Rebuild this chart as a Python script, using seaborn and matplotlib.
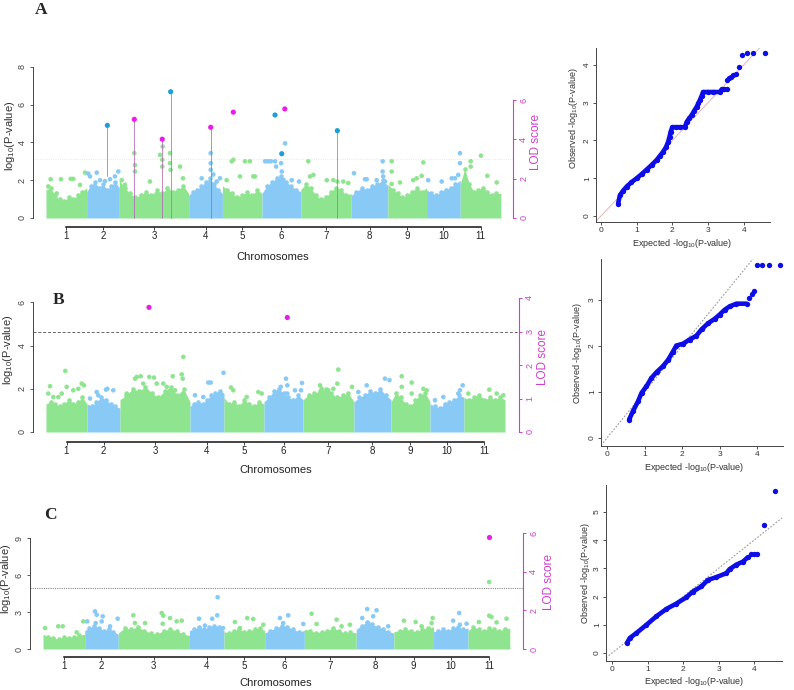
import numpy as np
import pandas as pd
import matplotlib
matplotlib.use('Agg')
import matplotlib.pyplot as plt
import seaborn as sns

# chromosomes (same genome for the three traits)
chrom_names = ['1', '2', '3', '4', '5', '6', '7', '8', '9', '10', '11']
chrom_len = [41, 33, 70, 34, 40, 39, 51, 37, 39, 34, 41]

# ---- panel A: top of the dense SNP band per chromosome (-log10 p)
A_band = [
    [1.5, 1.6, 1.2, 1.0, 0.9, 1.1, 1.0, 1.2, 1.4, 1.6],
    [1.4, 1.7, 1.9, 1.6, 1.8, 1.5, 1.7, 1.9, 1.6],
    [2.0, 1.6, 1.3, 1.1, 1.2, 1.4, 1.2, 1.5, 1.3, 1.6, 1.4, 1.5, 1.7, 1.3],
    [1.2, 1.4, 1.5, 1.7, 1.9, 2.1, 1.8, 1.5, 1.3],
    [1.7, 1.5, 1.3, 1.1, 1.2, 1.4, 1.2, 1.5, 1.3],
    [1.3, 1.7, 1.9, 2.1, 2.2, 1.9, 1.7, 1.5, 1.4],
    [1.5, 1.8, 1.6, 1.2, 1.0, 1.1, 1.4, 1.6, 1.5, 1.2, 1.3],
    [1.2, 1.4, 1.6, 1.5, 1.7, 1.8, 2.0, 1.7],
    [1.8, 1.5, 1.3, 1.1, 1.2, 1.4, 1.6, 1.4, 1.6],
    [1.5, 1.3, 1.2, 1.4, 1.5, 1.6, 1.8, 2.0],
    [1.8, 2.6, 1.8, 1.4, 1.5, 1.6, 1.4, 1.2, 1.3, 1.3],
]
A_snp_pos = [2.3, 4.7, 10.8, 15.1, 24.9, 27.5, 34.3, 39.4,
             42.7, 44.4, 51.2, 54.5, 59.5, 64.6, 69.6, 73.0,
             76.4, 79.7, 89.1, 89.8, 89.8, 104.9, 115.0, 117.7, 117.3, 117.3, 125.1, 125.1, 125.8, 135.2, 138.2,
             157.1, 166.2, 166.2, 166.2, 168.8, 172.2, 175.6,
             182.3, 187.4, 189.0, 195.7, 200.8, 205.8, 209.2, 210.9,
             221.1, 224.1, 226.9, 231.1, 232.2, 237.2, 237.9, 239.6, 241.3, 247.9, 255.3,
             264.7, 266.4, 269.8, 283.3, 289.9, 294.0, 300.0, 305.0,
             310.8, 321.9, 323.6, 333.7, 339.7, 339.7, 340.3, 342.1,
             348.8, 348.8, 348.8, 357.2, 370.6, 374.0, 379.1, 380.7,
             385.7, 399.3, 409.4, 412.7, 416.0, 417.7, 417.7,
             428.5, 428.5, 438.9, 445.3, 454.8]
A_snp_p = [1.67, 2.05, 1.3, 2.05, 2.07, 2.07, 1.75, 2.4,
           2.35, 2.2, 2.4, 2.0, 1.95, 2.05, 2.2, 2.46,
           2.0, 1.76, 3.43, 2.46, 2.8, 1.93, 3.34, 3.78, 3.08, 2.72, 3.43, 2.9, 2.55, 2.72, 2.1,
           2.1, 3.43, 2.9, 2.55, 2.3, 1.93, 2.1,
           2.0, 3.0, 3.08, 2.2, 3.0, 3.0, 2.2, 2.2,
           3.0, 3.0, 3.0, 3.0, 2.72, 2.9, 2.46, 2.02, 3.95, 2.0, 1.93,
           3.0, 2.2, 2.28, 2.0, 2.0, 1.93, 1.93, 1.85,
           2.37, 2.05, 2.05, 2.0, 3.0, 2.46, 2.2, 1.93,
           3.0, 2.46, 1.8, 1.88, 2.0, 2.1, 2.23, 2.94,
           2.0, 1.93, 2.1, 2.1, 2.28, 3.43, 2.9,
           3.0, 2.72, 3.3, 2.23, 1.88]
A_peak_pos = [61.9, 89.1, 117.3, 125.8, 166.2, 189.0, 231.1, 237.9, 241.0, 294.0]
A_peak_p = [4.9, 5.22, 4.17, 6.68, 4.8, 5.6, 5.45, 3.4, 5.77, 4.62]
A_peak_kind = ['gwas', 'lod', 'lod', 'gwas', 'lod', 'lod', 'gwas', 'gwas', 'lod', 'gwas']
A_stem_pos = [61.9, 89.1, 117.3, 125.8, 166.2, 294.0]
A_stem_lo = [2.2, 0, 0, 0, 0, 0]
A_stem_hi = [4.9, 5.22, 4.17, 6.68, 4.8, 4.62]
A_stem_kind = ['gwas', 'lod', 'lod', 'gwas', 'lod', 'gwas']
A_threshold = 3.12

# ---- panel B
B_band = [
    [1.3, 1.4, 1.3, 1.2, 1.3, 1.5, 1.3, 1.4, 1.6, 1.3],
    [1.3, 1.2, 1.4, 1.6, 1.5, 1.3, 1.2, 1.1],
    [1.5, 1.7, 2.0, 1.9, 2.1, 1.8, 1.6, 1.9, 2.1, 1.7, 2.0, 1.4],
    [1.2, 1.3, 1.4, 1.3, 1.5, 1.7, 1.8, 1.9, 1.8],
    [1.6, 1.3, 1.4, 1.2, 1.5, 1.3, 1.2, 1.4, 1.3],
    [1.4, 1.6, 1.9, 2.0, 1.8, 1.6, 1.5, 1.7, 1.5],
    [1.5, 1.7, 1.8, 1.9, 2.0, 1.8, 1.6, 1.7, 1.8, 1.4],
    [1.4, 1.6, 1.7, 1.9, 1.8, 2.0, 1.7, 1.5],
    [1.4, 1.8, 1.6, 1.3, 1.2, 1.5, 1.7, 1.8, 1.4],
    [1.3, 1.2, 1.1, 1.3, 1.4, 1.5, 1.7, 1.6],
    [1.6, 1.5, 1.6, 1.7, 1.5, 1.6, 1.5, 1.6, 1.5],
]
B_snp_pos = [2.3, 4.0, 7.3, 12.3, 15.7, 19.3, 20.7, 27.3, 32.3, 35.7, 38.0,
             44.0, 50.7, 52.3, 60.0, 61.3, 67.3,
             80.7, 89.0, 90.7, 94.7, 97.3, 103.3, 108.0, 110.7, 117.3, 120.7, 126.7, 129.0, 135.7, 136.7, 137.3,
             149.0, 157.3, 162.3, 164.7, 174.0, 177.5,
             185.0, 187.3, 200.7, 212.3, 215.7,
             228.0, 234.7, 240.0, 241.3, 241.3, 249.0, 255.0, 256.0,
             264.0, 274.0, 275.7, 282.3, 287.3, 291.3, 292.3, 300.7, 306.0,
             312.3, 320.7, 339.0, 343.5,
             355.7, 355.7, 365.7, 365.7, 377.3, 380.7,
             389.0, 397.3, 412.3, 414.0, 416.7,
             422.3, 430.7, 443.3, 450.7, 457.3]
B_snp_p = [1.78, 2.12, 1.62, 1.62, 1.78, 2.83, 2.09, 1.93, 2.0, 2.24, 2.16,
           1.55, 1.85, 1.7, 1.96, 2.0, 1.93,
           1.78, 2.47, 2.55, 2.58, 2.24, 2.55, 2.52, 2.24, 2.24, 2.09, 2.58, 1.93, 2.67, 2.47, 3.48,
           1.7, 1.62, 2.29, 2.29, 1.78, 2.74,
           2.06, 1.93, 1.62, 1.85, 1.78,
           1.55, 2.09, 2.47, 2.16, 1.78, 1.93, 1.93, 2.27,
           1.62, 2.16, 2.0, 1.93, 2.0, 2.24, 2.89, 1.62, 2.09,
           1.85, 2.16, 2.47, 2.4,
           2.58, 2.09, 2.29, 1.78, 2.0, 1.93,
           1.47, 1.62, 1.78, 1.93, 2.16,
           1.78, 1.55, 1.96, 1.78, 1.7]
B_peak_pos = [103.0, 241.3]
B_peak_p = [5.77, 5.3]
B_peak_kind = ['lod', 'lod']
B_threshold = 4.63

# ---- panel C
C_band = [
    [1.2, 1.0, 0.9, 0.8, 1.0, 0.9, 1.0, 1.1, 1.2],
    [1.5, 1.7, 1.9, 1.7, 1.5, 1.6, 1.4, 1.2],
    [1.3, 1.7, 1.6, 1.8, 1.5, 1.3, 1.2, 1.5, 1.6, 1.5, 1.2, 1.1],
    [1.5, 1.6, 1.8, 1.6, 1.8, 1.9, 1.8, 1.5],
    [1.4, 1.3, 1.5, 1.6, 1.4, 1.5, 1.6, 1.7, 1.5],
    [1.3, 1.5, 1.7, 1.9, 1.8, 1.6, 1.4, 1.5],
    [1.6, 1.5, 1.3, 1.4, 1.5, 1.7, 1.5, 1.3, 1.4, 1.3],
    [1.6, 1.9, 2.2, 2.0, 1.8, 1.6, 1.4, 1.3],
    [1.4, 1.5, 1.6, 1.5, 1.4, 1.6, 1.7, 1.8],
    [1.4, 1.5, 1.6, 1.5, 1.7, 1.8, 1.6, 1.7],
    [1.5, 1.8, 1.6, 1.5, 1.7, 1.6, 1.5, 1.6, 1.7],
]
C_snp_pos = [2.0, 15.0, 19.4, 33.1, 39.6,
             43.5, 51.1, 52.8, 51.8, 58.7, 57.7, 65.9, 73.4,
             88.8, 90.4, 100.3, 116.7, 118.3, 117.7, 124.9, 131.4, 136.4,
             153.4, 159.2, 166.4, 171.3, 171.7, 177.0,
             188.7, 193.6, 200.8, 206.7, 216.6,
             233.0, 236.2, 241.1, 255.9,
             264.1, 269.0, 288.7, 293.6, 301.8,
             313.9, 318.8, 319.8, 324.7, 328.0, 339.4,
             354.9, 366.4, 372.3, 382.1, 383.1,
             403.3, 409.2, 409.9, 416.5,
             428.6, 438.7, 441.0, 446.0, 455.8, 438.7]
C_snp_p = [1.7, 1.84, 1.84, 1.35, 2.24,
           2.24, 3.05, 2.78, 2.1, 2.65, 2.24, 1.84, 2.46,
           2.73, 2.1, 2.1, 2.92, 2.7, 2.05, 2.51, 2.24, 2.3,
           2.46, 1.9, 2.46, 2.73, 4.2, 1.7,
           2.19, 1.7, 2.51, 2.43, 1.97,
           2.51, 2.1, 2.73, 2.03,
           2.86, 2.03, 2.38, 1.84, 1.97,
           2.51, 3.24, 2.1, 2.65, 3.14, 1.84,
           2.3, 2.19, 1.84, 2.1, 2.51,
           2.3, 2.92, 1.97, 2.05,
           2.19, 2.7, 2.6, 2.16, 2.46, 5.43]
C_peak_pos = [438.7]
C_peak_p = [9.05]
C_peak_kind = ['lod']
C_threshold = 4.96

# ---- QQ plots: expected vs observed -log10(p)
qqA_exp = [0.48, 0.53, 0.62, 0.72, 0.85, 1.0, 1.14, 1.28, 1.42, 1.56, 1.65, 1.74, 1.82, 1.88, 1.92, 1.95,
           2.0, 2.1, 2.2, 2.35, 2.40, 2.47, 2.54, 2.61, 2.68, 2.73, 2.77, 2.82, 2.86, 3.0, 3.15, 3.33,
           3.38, 3.45, 3.52]
qqA_obs = [0.33, 0.55, 0.67, 0.78, 0.89, 1.0, 1.11, 1.23, 1.35, 1.48, 1.59, 1.70, 1.82, 1.96, 2.1, 2.23,
           2.35, 2.35, 2.35, 2.35, 2.49, 2.58, 2.67, 2.78, 2.89, 2.98, 3.07, 3.18, 3.28, 3.28, 3.28, 3.28,
           3.35, 3.35, 3.35]
qqA_tail_exp = [3.53, 3.58, 3.63, 3.70, 3.79, 3.87, 3.96, 4.09, 4.26, 4.59]
qqA_tail_obs = [3.60, 3.65, 3.69, 3.73, 3.75, 3.95, 4.27, 4.30, 4.30, 4.30]

qqB_exp = [0.59, 0.69, 0.83, 0.92, 1.05, 1.18, 1.32, 1.49, 1.63, 1.76, 1.85, 2.03, 2.20, 2.38, 2.52,
           2.69, 2.87, 3.0, 3.14, 3.27, 3.45, 3.72]
qqB_obs = [0.40, 0.58, 0.80, 0.98, 1.12, 1.30, 1.43, 1.56, 1.70, 1.88, 2.01, 2.05, 2.14, 2.22, 2.36,
           2.49, 2.59, 2.68, 2.79, 2.86, 2.92, 2.92]
qqB_tail_exp = [3.79, 3.86, 3.92, 4.01, 4.14, 4.32, 4.62]
qqB_tail_obs = [3.04, 3.14, 3.20, 3.77, 3.77, 3.77, 3.77]

qqC_exp = [0.42, 0.50, 0.69, 0.97, 1.25, 1.53, 1.81, 2.09, 2.28, 2.52, 2.70, 2.94, 3.22, 3.31, 3.50,
           3.69, 3.83]
qqC_obs = [0.35, 0.53, 0.71, 1.0, 1.30, 1.56, 1.75, 1.97, 2.18, 2.36, 2.59, 2.69, 2.83, 2.97, 3.13,
           3.24, 3.40]
qqC_tail_exp = [3.91, 4.0, 4.09, 4.27, 4.58]
qqC_tail_obs = [3.50, 3.50, 3.50, 4.54, 5.74]

# ---------------------------------------------------------------- style
sns.set_theme(style='ticks')
plt.rcParams['font.family'] = ['Liberation Sans', 'DejaVu Sans']
plt.rcParams['mathtext.fontset'] = 'custom'
plt.rcParams['mathtext.rm'] = 'Liberation Sans'
plt.rcParams['mathtext.it'] = 'Liberation Sans:italic'
NARROW = ['Liberation Sans Narrow', 'Liberation Sans', 'DejaVu Sans']

GREEN = '#8fe58f'
BLUE = '#88caf5'
QQBLUE = '#0d0de8'
MAG = '#cc3fcc'
KIND_COL = {'gwas': '#1e9fd6', 'lod': '#e81ee8'}
STEM_COL = {'gwas': '#38aacb', 'lod': '#b06ab0'}

W, H = 794, 690
fig = plt.figure(figsize=(W / 100, H / 100), dpi=100)

off = np.concatenate([[0], np.cumsum(chrom_len)])
mids = off[:-1] + np.array(chrom_len) / 2


def rect(x0, y0, x1, y1):
    return [x0 / W, 1 - y1 / H, (x1 - x0) / W, (y1 - y0) / H]


def ftext(x, y, s, **kw):
    fig.text(x / W, 1 - y / H, s, **kw)


def manhattan(lay, band, snp_pos, snp_p, pk_pos, pk_p, pk_kind, thr, thr_kw,
              stems=None):
    x0, y0, x1, y1 = lay['box']
    ax = fig.add_axes(rect(*lay['box']))
    ax.set_xlim((x0 - lay['xz']) / lay['xs'], (x1 - lay['xz']) / lay['xs'])
    ax.set_ylim((lay['yz'] - y1) / lay['ys'], (lay['yz'] - y0) / lay['ys'])

    for i, env in enumerate(band):
        xs = np.linspace(off[i], off[i + 1], len(env))
        col = GREEN if i % 2 == 0 else BLUE
        ax.fill_between(xs, 0, env, color=col, lw=0, zorder=1)
        sns.scatterplot(x=xs[1:-1], y=env[1:-1], color=col, s=11, linewidth=0,
                        ax=ax, zorder=2)

    ax.axhline(thr, zorder=1.5, **thr_kw)

    pos = np.array(snp_pos)
    idx = np.searchsorted(off, pos, side='right') - 1
    df = pd.DataFrame({'pos': pos, 'p': snp_p,
                       'chrom': np.where(idx % 2 == 0, 'odd', 'even')})
    sns.scatterplot(data=df, x='pos', y='p', hue='chrom',
                    palette={'odd': GREEN, 'even': BLUE}, s=11, linewidth=0,
                    legend=False, ax=ax, zorder=3)

    if stems is not None:
        for sp, lo, hi, kd in zip(*stems):
            ax.plot([sp, sp], [lo, hi], color=STEM_COL[kd], lw=0.7,
                    alpha=0.8, zorder=4)

    pk = pd.DataFrame({'pos': pk_pos, 'p': pk_p, 'kind': pk_kind})
    sns.scatterplot(data=pk, x='pos', y='p', hue='kind', palette=KIND_COL,
                    s=14, linewidth=0, legend=False, ax=ax, zorder=5)
    ax.set_xlabel('')
    ax.set_ylabel('')

    for s in ['top', 'right']:
        ax.spines[s].set_visible(False)
    ax.spines['left'].set_bounds(0, lay['ymax'])
    ax.spines['left'].set_linewidth(0.7)
    ax.spines['left'].set_color('#444444')
    ax.set_yticks(np.arange(0, lay['ymax'] + 0.1, lay['ystep']))
    ax.tick_params(axis='y', labelsize=6.5, length=2.5, width=0.6, pad=2,
                   labelrotation=90, colors='#444444')
    for lab in ax.get_yticklabels():
        lab.set_va('center')

    ax.spines['bottom'].set_position(('outward', lay['drop'] * 0.72))
    ax.spines['bottom'].set_bounds(mids[0], mids[-1])
    ax.spines['bottom'].set_linewidth(1.1)
    ax.spines['bottom'].set_color('#111111')
    ax.set_xticks(mids, chrom_names)
    ax.tick_params(axis='x', length=2.2, width=0.6, pad=1, colors='#222222')
    for lab in ax.get_xticklabels():
        lab.set_fontfamily(NARROW)
        lab.set_fontsize(7)

    ax2 = ax.twinx()
    ax2.set_ylim((lay['lz'] - y1) / lay['ls'], (lay['lz'] - y0) / lay['ls'])
    for s in ['top', 'left', 'bottom']:
        ax2.spines[s].set_visible(False)
    ax2.spines['right'].set_bounds(0, lay['lmax'])
    ax2.spines['right'].set_color(MAG)
    ax2.spines['right'].set_linewidth(0.8)
    ax2.set_yticks(np.arange(0, lay['lmax'] + 0.1, lay['lstep']))
    ax2.tick_params(axis='y', colors=MAG, labelsize=6.5, length=2.5, width=0.7,
                    pad=2, labelrotation=90)
    for lab in ax2.get_yticklabels():
        lab.set_va('center')
    ax2.grid(False)

    ftext(*lay['ylab'], r'log$_{10}$(P-value)', rotation=90, ha='center',
          va='center', fontsize=8, color='#333333')
    ftext(*lay['llab'], 'LOD score', rotation=90, ha='center', va='center',
          fontsize=8.5, color=MAG)
    ftext(*lay['clab'], 'Chromosomes', ha='center', va='center', fontsize=8,
          family=NARROW, color='#222222')
    ftext(*lay['letter'][:2], lay['letter'][2], ha='center', va='center',
          fontsize=12.5, fontweight='bold', family=['Liberation Serif', 'DejaVu Serif'])
    return ax


def qq(lay, e_main, o_main, e_tail, o_tail, diag_kw):
    x0, y0, x1, y1 = lay['box']
    ax = fig.add_axes(rect(*lay['box']))
    ax.set_xlim((x0 - lay['xz']) / lay['xs'], (x1 - lay['xz']) / lay['xs'])
    ax.set_ylim((lay['yz'] - y1) / lay['ys'], (lay['yz'] - y0) / lay['ys'])
    ax.axline((0, 0), slope=1, zorder=1, **diag_kw)
    ax.plot(e_main, o_main, color=QQBLUE, lw=3.3, solid_capstyle='round',
            solid_joinstyle='round', zorder=2)
    sns.scatterplot(x=e_main + e_tail, y=o_main + o_tail, color=QQBLUE, s=15,
                    linewidth=0, ax=ax, zorder=3)
    for s in ['top', 'right']:
        ax.spines[s].set_visible(False)
    for s in ['left', 'bottom']:
        ax.spines[s].set_linewidth(0.7)
        ax.spines[s].set_color('#444444')
    ax.set_xticks(range(0, 5))
    ax.set_yticks(range(0, lay['ymax'] + 1))
    ax.tick_params(labelsize=6, length=2.2, width=0.6, pad=1.5, colors='#333333')
    ax.tick_params(axis='y', labelrotation=90)
    for lab in ax.get_yticklabels():
        lab.set_va('center')
    ftext(*lay['ylab'], r'Observed -log$_{10}$(P-value)', rotation=90,
          ha='center', va='center', fontsize=6.5, color='#333333')
    ftext(*lay['xlab'], r'Expected -log$_{10}$(P-value)', ha='center',
          va='center', fontsize=6.5, color='#333333')
    return ax


layA = dict(box=(33, 62, 513, 222), xz=46, xs=0.991, yz=218, ys=18.9, ymax=8, ystep=2,
            lz=218, ls=19.67, lmax=6, lstep=2, drop=5,
            ylab=(10, 136), llab=(536, 142), clab=(273, 257), letter=(41, 10, 'A'))
layB = dict(box=(33, 296, 519, 436), xz=46, xs=1.0, yz=432, ys=21.6, ymax=6, ystep=2,
            lz=432, ls=33.5, lmax=4, lstep=1, drop=6,
            ylab=(8, 350), llab=(543, 357), clab=(276, 470), letter=(59, 300, 'B'))
layC = dict(box=(30, 533, 523, 653), xz=43, xs=1.017, yz=649, ys=12.33, ymax=9, ystep=3,
            lz=649, ls=20.5, lmax=6, lstep=2, drop=4,
            ylab=(6, 579), llab=(549, 582), clab=(276, 683), letter=(50, 515, 'C'))

manhattan(layA, A_band, A_snp_pos, A_snp_p, A_peak_pos, A_peak_p, A_peak_kind,
          A_threshold, dict(color='#e2e2e2', lw=0.6, ls=':'),
          stems=(A_stem_pos, A_stem_lo, A_stem_hi, A_stem_kind))
manhattan(layB, B_band, B_snp_pos, B_snp_p, B_peak_pos, B_peak_p, B_peak_kind,
          B_threshold, dict(color='#666666', lw=0.7, ls=(0, (3, 2))))
manhattan(layC, C_band, C_snp_pos, C_snp_p, C_peak_pos, C_peak_p, C_peak_kind,
          C_threshold, dict(color='#888888', lw=0.8, ls=(0, (1, 1))))

qA = dict(box=(596, 48, 770, 222), xz=601, xs=35.7, yz=216, ys=37.8, ymax=4,
          ylab=(573, 118), xlab=(682, 243))
qB = dict(box=(601, 259, 783, 446), xz=607, xs=37.5, yz=438, ys=46.0, ymax=3,
          ylab=(577, 353), xlab=(694, 467))
qC = dict(box=(606, 485, 782, 661), xz=612, xs=35.5, yz=653, ys=28.2, ymax=5,
          ylab=(585, 573), xlab=(694, 681))

qq(qA, qqA_exp, qqA_obs, qqA_tail_exp, qqA_tail_obs, dict(color='#e6b4b4', lw=0.7))
qq(qB, qqB_exp, qqB_obs, qqB_tail_exp, qqB_tail_obs,
   dict(color='#999999', lw=0.8, ls=(0, (1.5, 1.5))))
qq(qC, qqC_exp, qqC_obs, qqC_tail_exp, qqC_tail_obs,
   dict(color='#999999', lw=0.8, ls=(0, (1.5, 1.5))))

fig.savefig('out.png', dpi=100)
